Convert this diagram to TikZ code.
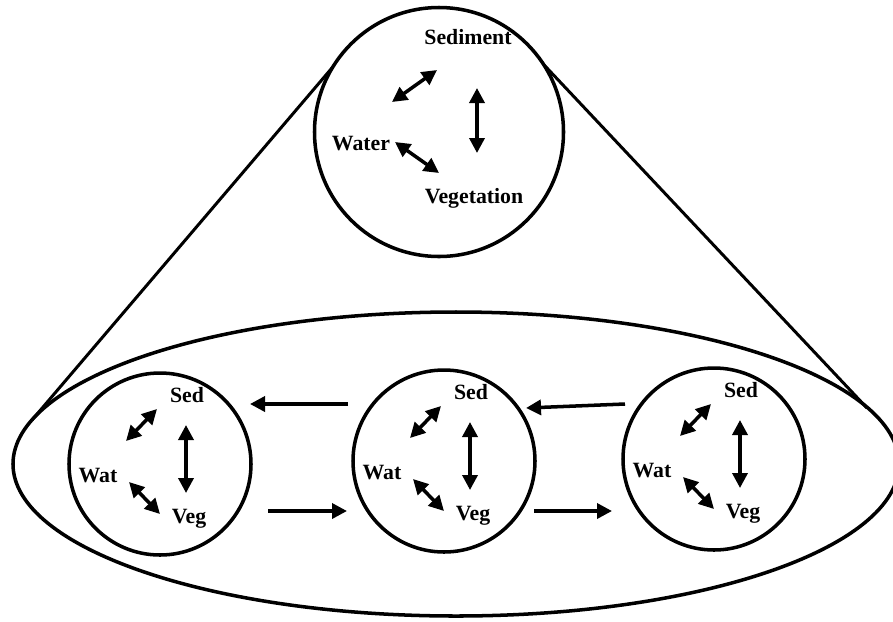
\documentclass[tikz,border=0pt]{standalone}
\usepackage{fontspec}
\setmainfont{Liberation Serif}
\usepackage{tikz}
\usetikzlibrary{arrows.meta}
\tikzset{
  ring/.style={draw, circle, line width=2pt, inner sep=0pt},
  lbl/.style={font=\bfseries\fontsize{12.4}{14}\selectfont, inner sep=0pt},
  dbl/.style={line width=2pt, {Triangle[length=3mm,width=3mm]}-{Triangle[length=3mm,width=3mm]}},
  sgl/.style={line width=2pt, -{Triangle[length=3mm,width=3mm]}},
}

\begin{document}
\begin{tikzpicture}[x=.2mm, y=-.2mm]
\useasboundingbox (0,0) rectangle (893,621);
% the whole reach
\draw[line width=2pt] (456,464) ellipse [x radius=88.6mm, y radius=30.4mm];
\draw[line width=1.7pt] (32,420) -- (343,55);
\draw[line width=1.7pt] (530,50) -- (867,408);
% one site, enlarged
\node[ring, fill=white, minimum size=49.8mm] (top) at (439,132) {};
\node[lbl] (sed) at (468,37) {Sediment};
\node[lbl] (wat) at (361,144) {Water};
\node[lbl] (veg) at (474,198) {Vegetation};
\draw[dbl] ([shift={(-47,-30)}]top.center) -- ([shift={(-2,-62)}]top.center);
\draw[dbl] ([shift={(38,-44)}]top.center) -- ([shift={(38,21)}]top.center);
\draw[dbl] ([shift={(-44,10)}]top.center) -- ([shift={(0,41)}]top.center);
% sites along the reach
\foreach \cx/\cy/\n in {160/464/a, 444/461/b, 714/459/c}{
 \node[ring, minimum size=36.4mm] (\n) at (\cx,\cy) {};
 \node[lbl] (\n-sed) at ([shift={(27,-69)}]\n.center) {Sed};
 \node[lbl] (\n-wat) at ([shift={(-62,12)}]\n.center) {Wat};
 \node[lbl] (\n-veg) at ([shift={(29,55)}]\n.center) {Veg};
 \draw[dbl] ([shift={(-34,-23)}]\n.center) -- ([shift={(-3,-55)}]\n.center);
 \draw[dbl] ([shift={(26,-39)}]\n.center) -- ([shift={(26,29)}]\n.center);
 \draw[dbl] ([shift={(-31,18)}]\n.center) -- ([shift={(0,50)}]\n.center);
}
\draw[sgl] ([shift={(-96,-57)}]b.center) -- ([shift={(90,-60)}]a.center);
\draw[sgl] ([shift={(108,47)}]a.center) -- ([shift={(-97,50)}]b.center);
\draw[sgl] ([shift={(-89,-55)}]c.center) -- ([shift={(82,-53)}]b.center);
\draw[sgl] ([shift={(90,50)}]b.center) -- ([shift={(-102,52)}]c.center);
\end{tikzpicture}
\end{document}
